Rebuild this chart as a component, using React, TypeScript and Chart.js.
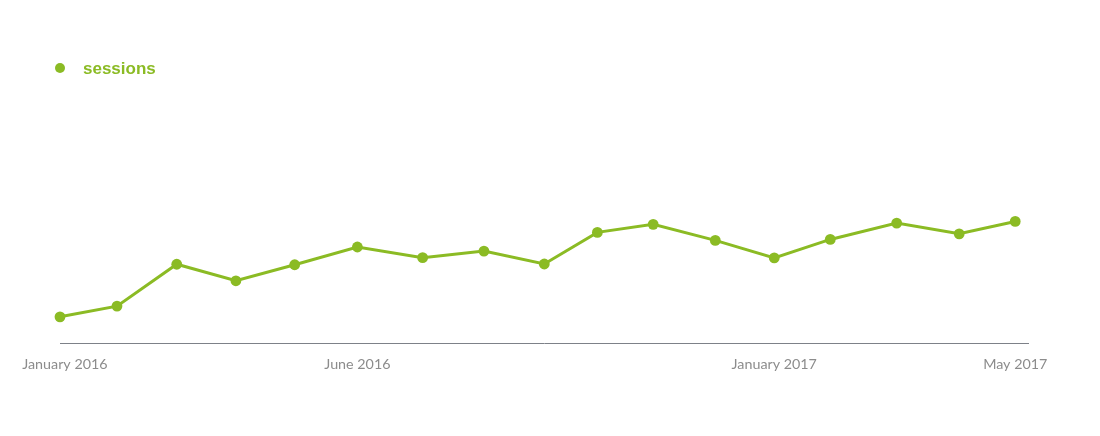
import React, { useEffect, useRef } from "react";
import { Chart, registerables } from "chart.js";

Chart.register(...registerables);

const seriesLabel = "sessions";
// day offsets from the first data point (January 2016)
const dayOffsets = [0, 29, 59.4, 89.5, 119.4, 151.3, 184.5, 215.7, 246.4, 273.4, 301.8, 333.4, 363.4, 391.9, 425.7, 457.5, 486];
const sessions = [109, 153, 325, 257, 323, 396, 352, 379, 326, 456, 489, 423, 351, 427, 494, 450, 501];
const tickValues = [2.5, 151.3, 363.4, 486];
const tickLabels = ["January 2016", "June 2016", "January 2017", "May 2017"];

const GREEN = "#8bbb24";

const legendPlugin = {
  id: "customLegend",
  afterDraw(chart: any) {
    const ctx = chart.ctx;
    const ds = chart.data.datasets[0];
    ctx.save();
    ctx.fillStyle = ds.borderColor;
    ctx.beginPath();
    ctx.arc(60, 68, 5, 0, Math.PI * 2);
    ctx.fill();
    ctx.font = "bold 17px 'Liberation Sans', Arial, sans-serif";
    ctx.textBaseline = "alphabetic";
    ctx.textAlign = "left";
    ctx.fillText(ds.label, 83, 73.5);
    ctx.restore();
  },
};

export default function App() {
  const ref = useRef<HTMLCanvasElement | null>(null);
  useEffect(() => {
    if (!ref.current) return;
    const chart = new Chart(ref.current, {
      type: "line",
      data: {
        datasets: [
          {
            label: seriesLabel,
            data: dayOffsets.map((x, i) => ({ x, y: sessions[i] })),
            borderColor: GREEN,
            backgroundColor: GREEN,
            pointBackgroundColor: GREEN,
            pointBorderColor: GREEN,
            pointBorderWidth: 0,
            pointRadius: 5.4,
            borderWidth: 3,
            tension: 0,
            clip: false,
          },
        ],
      },
      options: {
        responsive: false,
        animation: false,
        layout: { padding: { left: 60, right: 72, top: 100, bottom: 51.5 } },
        plugins: { legend: { display: false }, tooltip: { enabled: false } },
        scales: {
          x: {
            type: "linear",
            min: 0,
            max: 492.5,
            grid: { display: false, drawTicks: false },
            border: { display: true, color: "#7d8188", width: 1 },
            afterBuildTicks: (scale: any) => {
              scale.ticks = tickValues.map((v) => ({ value: v }));
            },
            ticks: {
              autoSkip: false,
              maxRotation: 0,
              padding: 12,
              color: "#8c8c8c",
              font: { family: "Lato", size: 14.3, weight: 400 },
              callback: (_v: any, i: number) => tickLabels[i],
            },
          },
          y: { display: false, min: 0, max: 1000 },
        },
      },
      plugins: [legendPlugin],
    });
    return () => chart.destroy();
  }, []);
  return (
    <div style={{ position: "absolute", left: 0, top: 0, width: 1100, height: 436, background: "#fff" }}>
      <canvas ref={ref} width={1100} height={436} style={{ display: "block" }} />
    </div>
  );
}
